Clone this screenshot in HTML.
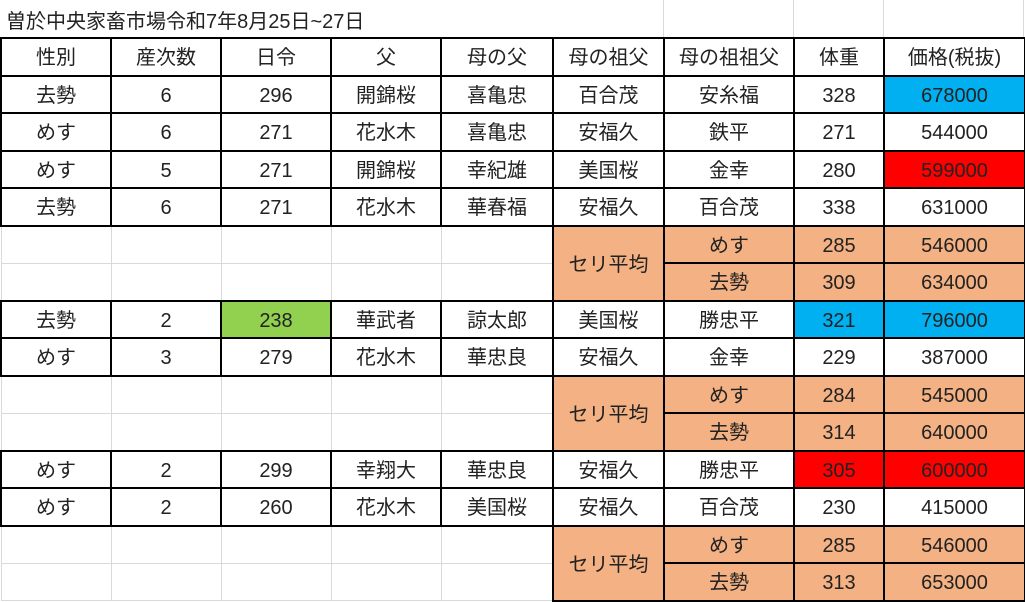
<!DOCTYPE html>
<html><head><meta charset="utf-8"><style>
body{margin:0;width:1025px;height:601px;background:#fff;overflow:hidden;position:relative;font-family:"Liberation Sans","Noto Sans CJK JP",sans-serif;color:#222}
.t{position:absolute;left:6px;top:5px;font-size:20px}
.g{position:absolute;top:0;height:37px;border-left:1px solid #d9d9d9}
table{position:absolute;left:0;top:37px;border-collapse:collapse;table-layout:fixed;width:1024px}
td{border:2px solid #000;text-align:center;font-size:20px;height:37.5px;line-height:24px;padding:3px 0 0 0;box-sizing:border-box;white-space:nowrap;vertical-align:middle}
td.e{border:1px solid #d9d9d9}
.o{background:#F4B183}.b{background:#00B0F0}.r{background:#FF0000}.gr{background:#92D050}
</style></head><body>
<div class="t">曽於中央家畜市場令和7年8月25日~27日</div>
<div class="g" style="left:663px"></div><div class="g" style="left:793px"></div><div class="g" style="left:883px"></div><div class="g" style="left:1023px"></div>
<table>
<colgroup><col style="width:110px"><col style="width:110px"><col style="width:110px"><col style="width:110px"><col style="width:112px"><col style="width:111px"><col style="width:130px"><col style="width:90px"><col style="width:141px"></colgroup>
<tr><td>性別</td><td>産次数</td><td>日令</td><td>父</td><td>母の父</td><td>母の祖父</td><td>母の祖祖父</td><td>体重</td><td>価格(税抜)</td></tr>
<tr><td>去勢</td><td>6</td><td>296</td><td>開錦桜</td><td>喜亀忠</td><td>百合茂</td><td>安糸福</td><td>328</td><td class="b">678000</td></tr>
<tr><td>めす</td><td>6</td><td>271</td><td>花水木</td><td>喜亀忠</td><td>安福久</td><td>鉄平</td><td>271</td><td>544000</td></tr>
<tr><td>めす</td><td>5</td><td>271</td><td>開錦桜</td><td>幸紀雄</td><td>美国桜</td><td>金幸</td><td>280</td><td class="r">599000</td></tr>
<tr><td>去勢</td><td>6</td><td>271</td><td>花水木</td><td>華春福</td><td>安福久</td><td>百合茂</td><td>338</td><td>631000</td></tr>
<tr><td class="e"></td><td class="e"></td><td class="e"></td><td class="e"></td><td class="e"></td><td class="o" rowspan="2">セリ平均</td><td class="o">めす</td><td class="o">285</td><td class="o">546000</td></tr>
<tr><td class="e"></td><td class="e"></td><td class="e"></td><td class="e"></td><td class="e"></td><td class="o">去勢</td><td class="o">309</td><td class="o">634000</td></tr>
<tr><td>去勢</td><td>2</td><td class="gr">238</td><td>華武者</td><td>諒太郎</td><td>美国桜</td><td>勝忠平</td><td class="b">321</td><td class="b">796000</td></tr>
<tr><td>めす</td><td>3</td><td>279</td><td>花水木</td><td>華忠良</td><td>安福久</td><td>金幸</td><td>229</td><td>387000</td></tr>
<tr><td class="e"></td><td class="e"></td><td class="e"></td><td class="e"></td><td class="e"></td><td class="o" rowspan="2">セリ平均</td><td class="o">めす</td><td class="o">284</td><td class="o">545000</td></tr>
<tr><td class="e"></td><td class="e"></td><td class="e"></td><td class="e"></td><td class="e"></td><td class="o">去勢</td><td class="o">314</td><td class="o">640000</td></tr>
<tr><td>めす</td><td>2</td><td>299</td><td>幸翔大</td><td>華忠良</td><td>安福久</td><td>勝忠平</td><td class="r">305</td><td class="r">600000</td></tr>
<tr><td>めす</td><td>2</td><td>260</td><td>花水木</td><td>美国桜</td><td>安福久</td><td>百合茂</td><td>230</td><td>415000</td></tr>
<tr><td class="e"></td><td class="e"></td><td class="e"></td><td class="e"></td><td class="e"></td><td class="o" rowspan="2">セリ平均</td><td class="o">めす</td><td class="o">285</td><td class="o">546000</td></tr>
<tr><td class="e"></td><td class="e"></td><td class="e"></td><td class="e"></td><td class="e"></td><td class="o">去勢</td><td class="o">313</td><td class="o">653000</td></tr>
</table>
</body></html>
